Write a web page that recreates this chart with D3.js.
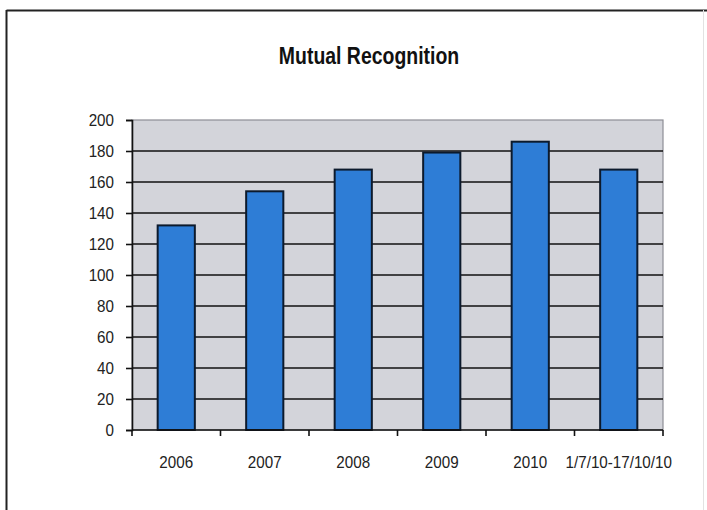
<!DOCTYPE html>
<html>
<head>
<meta charset="utf-8">
<script src="https://cdn.jsdelivr.net/npm/d3@7"></script>
<style>
  html, body { margin: 0; padding: 0; background: #fff; }
  svg { display: block; }
  text { font-family: "Liberation Sans Narrow", "Arial Narrow", "Liberation Sans", Arial, sans-serif; }
</style>
</head>
<body>
<div id="chart"></div>
<script>
// Mutual recognition counts per period
const categories = ["2006", "2007", "2008", "2009", "2010", "1/7/10-17/10/10"];
const values = [132, 154, 168, 179, 186, 168];
const yTicks = [0, 20, 40, 60, 80, 100, 120, 140, 160, 180, 200];
const chartTitle = "Mutual Recognition";

const W = 707, H = 510;
const plot = { left: 132, right: 663, top: 120, bottom: 430 };

// squeeze text horizontally to a narrow face
function condense(sel, factor) {
  sel.each(function () {
    const len = this.getComputedTextLength();
    d3.select(this).attr("textLength", len * factor).attr("lengthAdjust", "spacingAndGlyphs");
  });
}

const svg = d3.select("#chart").append("svg")
  .attr("width", W).attr("height", H);

// outer frame
svg.append("rect").attr("x", 0).attr("y", 0).attr("width", W).attr("height", H).attr("fill", "#fff");
svg.append("line").attr("x1", 6.5).attr("x2", W).attr("y1", 10.5).attr("y2", 10.5)
  .attr("stroke", "#222").attr("stroke-width", 2);
svg.append("line").attr("x1", 6.5).attr("x2", 6.5).attr("y1", 10).attr("y2", H)
  .attr("stroke", "#222").attr("stroke-width", 2);
svg.append("line").attr("x1", 703.5).attr("x2", 703.5).attr("y1", 10).attr("y2", H)
  .attr("stroke", "#e2e2e2").attr("stroke-width", 1);

const x = d3.scaleBand().domain(categories)
  .range([plot.left, plot.right]).paddingInner(0.58).paddingOuter(0.29);
const xEdge = d3.scaleLinear().domain([0, categories.length]).range([plot.left, plot.right]);
const y = d3.scaleLinear().domain([0, 200]).range([plot.bottom, plot.top]);

// plot background
svg.append("rect")
  .attr("x", plot.left).attr("y", plot.top)
  .attr("width", plot.right - plot.left).attr("height", plot.bottom - plot.top)
  .attr("fill", "#d3d4da").attr("stroke", "#8e8e96").attr("stroke-width", 1.2);

// horizontal gridlines
svg.append("g").selectAll("line").data(yTicks.filter(d => d > 0 && d < 200)).join("line")
  .attr("x1", plot.left).attr("x2", plot.right)
  .attr("y1", d => y(d)).attr("y2", d => y(d))
  .attr("stroke", "#111").attr("stroke-width", 1.6);

// bars
svg.append("g").selectAll("rect").data(values).join("rect")
  .attr("x", (d, i) => x(categories[i]))
  .attr("y", d => y(d))
  .attr("width", x.bandwidth())
  .attr("height", d => y(0) - y(d))
  .attr("fill", "#2e7dd6")
  .attr("stroke", "#0c1a2c").attr("stroke-width", 2);

// y axis
const yAxis = d3.axisLeft(y).tickValues(yTicks).tickSize(6).tickPadding(12);
const gy = svg.append("g").attr("transform", `translate(${plot.left},0)`).call(yAxis);
gy.select(".domain").attr("stroke", "#111").attr("stroke-width", 1.6);
gy.selectAll(".tick line").attr("stroke", "#111").attr("stroke-width", 1.6);
gy.selectAll(".tick text").attr("font-size", 16.5).attr("fill", "#222")
  .attr("font-family", "'Liberation Sans', Arial, sans-serif");
condense(gy.selectAll(".tick text"), 0.92);

// x axis: line at zero with ticks on category boundaries
svg.append("line").attr("x1", plot.left).attr("x2", plot.right)
  .attr("y1", y(0)).attr("y2", y(0)).attr("stroke", "#111").attr("stroke-width", 1.6);
svg.append("g").selectAll("line").data(d3.range(categories.length + 1)).join("line")
  .attr("x1", d => xEdge(d)).attr("x2", d => xEdge(d))
  .attr("y1", y(0)).attr("y2", y(0) + 6)
  .attr("stroke", "#111").attr("stroke-width", 1.6);
const xLabels = svg.append("g").selectAll("text").data(categories).join("text")
  .attr("x", d => x(d) + x.bandwidth() / 2)
  .attr("y", 468)
  .attr("text-anchor", "middle")
  .attr("font-size", 16.5).attr("fill", "#222")
  .text(d => d);
condense(xLabels, 0.92);

// title
const title = svg.append("text")
  .attr("x", 369).attr("y", 64)
  .attr("text-anchor", "middle")
  .attr("font-size", 23).attr("font-weight", "bold").attr("fill", "#111")
  .text(chartTitle);
condense(title, 0.845);
</script>
</body>
</html>
